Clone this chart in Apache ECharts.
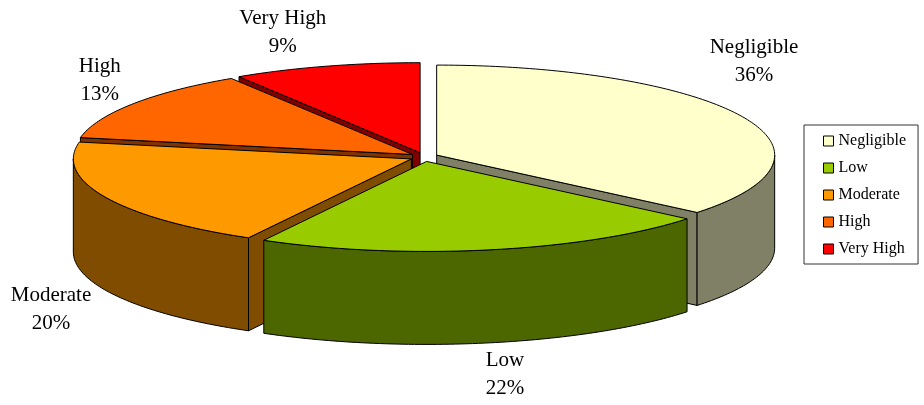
<!DOCTYPE html>
<html>
<head>
<meta charset="utf-8">
<script src="https://cdn.jsdelivr.net/npm/echarts@6/dist/echarts.min.js"></script>
<style>html,body{margin:0;padding:0;background:#fff;}#c{width:924px;height:405px;}</style>
</head>
<body>
<div id="c"></div>
<script>
// ---- data ----
var categories = ['Negligible', 'Low', 'Moderate', 'High', 'Very High'];
var values = [36, 22, 20, 13, 9];
var topColors = ['#FFFFCC', '#99CC00', '#FF9900', '#FF6600', '#FF0000'];
var sideColors = ['#808066', '#4C6600', '#804C00', '#803300', '#800000'];

// ---- layout (style only) ----
var CX = 424, CY = 157, RX = 338, RY = 90, DEPTH = 93, EXX = 14, EXY = 4.5;
var labelNudge = [[11.5, -55], [15, 125], [-54.5, 112], [-33, -23], [-43, -34]];
var FONT = '"Liberation Serif", "Times New Roman", serif';

var total = values.reduce(function (a, b) { return a + b; }, 0);
function rad(d) { return d * Math.PI / 180; }

function sliceGeom(i) {
  var before = 0;
  for (var k = 0; k < i; k++) before += values[k];
  var s = before / total * 360;
  var e = (before + values[i]) / total * 360;
  var m = (s + e) / 2;
  var ox = CX + EXX * Math.sin(rad(m));
  var oy = CY - EXY * Math.cos(rad(m));
  return { s: s, e: e, m: m, ox: ox, oy: oy };
}
function pt(g, a, dy) {
  return [g.ox + RX * Math.sin(rad(a)), g.oy - RY * Math.cos(rad(a)) + (dy || 0)];
}
function arc(g, a0, a1, dy) {
  var pts = [];
  var n = Math.max(2, Math.ceil(Math.abs(a1 - a0)));
  for (var j = 0; j <= n; j++) pts.push(pt(g, a0 + (a1 - a0) * j / n, dy));
  return pts;
}

function makeRender(i) {
  return function (params, api) {
    var g = sliceGeom(i);
    var children = [];
    var key = -Math.cos(rad(g.m));
    var wz = Math.round(20 + key * 10);
    var sideStyle = { fill: sideColors[i], stroke: '#000', lineWidth: 1, lineJoin: 'round' };
    var c0 = [g.ox, g.oy], c1 = [g.ox, g.oy + DEPTH];
    // radial start wall
    if (g.s > 180 && g.s < 360) {
      var p = pt(g, g.s), pb = pt(g, g.s, DEPTH);
      children.push({ type: 'polygon', z2: wz, shape: { points: [c0, p, pb, c1] }, style: sideStyle });
    }
    // radial end wall
    if (g.e > 0 && g.e < 180) {
      var q = pt(g, g.e), qb = pt(g, g.e, DEPTH);
      children.push({ type: 'polygon', z2: wz, shape: { points: [c0, q, qb, c1] }, style: sideStyle });
    }
    // outer wall (front half only)
    var a0 = Math.max(g.s, 90), a1 = Math.min(g.e, 270);
    if (a1 > a0) {
      var topArc = arc(g, a0, a1, 0);
      var botArc = arc(g, a1, a0, DEPTH);
      children.push({ type: 'polygon', z2: wz + 1, shape: { points: topArc.concat(botArc) }, style: sideStyle });
    }
    // top face
    var topPts = [c0].concat(arc(g, g.s, g.e, 0));
    children.push({ type: 'polygon', z2: 100, shape: { points: topPts },
      style: { fill: topColors[i], stroke: '#000', lineWidth: 1, lineJoin: 'round' } });
    // label
    var P = pt(g, g.m);
    var pct = Math.round(api.value(0) / total * 100) + '%';
    children.push({ type: 'text', z2: 200,
      style: { text: categories[i] + '\n' + pct, x: P[0] + labelNudge[i][0], y: P[1] + labelNudge[i][1],
        align: 'center', verticalAlign: 'middle', lineHeight: 28, font: '21px ' + FONT, fill: '#000' } });
    return { type: 'group', children: children };
  };
}

var series = categories.map(function (name, i) {
  return {
    type: 'custom', name: name, coordinateSystem: 'none',
    itemStyle: { color: topColors[i] },
    data: [[values[i]]],
    renderItem: makeRender(i)
  };
});

var chart = echarts.init(document.getElementById('c'));
chart.setOption({
  animation: false,
  backgroundColor: '#fff',
  legend: {
    orient: 'vertical', left: 804, top: 125,
    padding: [8, 12, 7, 19], itemGap: 11, itemWidth: 10, itemHeight: 10,
    borderColor: '#333', borderWidth: 1, borderRadius: 0,
    icon: 'rect',
    itemStyle: { borderColor: '#000', borderWidth: 1 },
    textStyle: { fontFamily: FONT, fontSize: 16, color: '#000', lineHeight: 16 },
    data: categories
  },
  series: series
});
</script>
</body>
</html>
